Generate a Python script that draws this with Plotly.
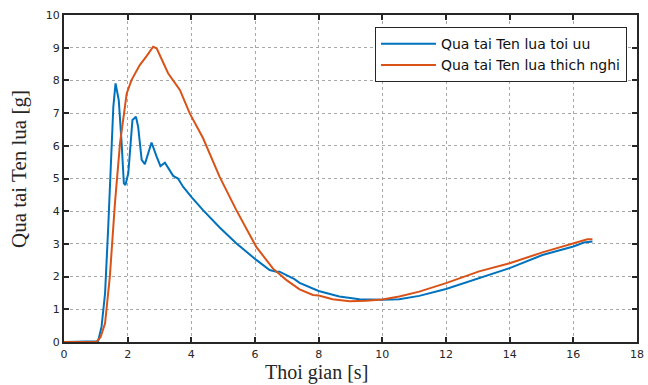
import plotly.graph_objects as go

# Blue: optimal
t_opt = [0, 0.5, 1.0, 1.07, 1.18, 1.29, 1.39, 1.49, 1.55, 1.62, 1.72, 1.81, 1.88, 1.93, 2.02,
         2.15, 2.26, 2.33, 2.44, 2.54, 2.75, 2.91, 3.03, 3.17, 3.32, 3.43, 3.58, 3.74, 4.0,
         4.36, 4.89, 5.41, 6.04, 6.46, 6.67, 6.77, 7.24, 7.40, 8.0, 8.65, 9.28, 10.0, 10.53,
         11.16, 12.0, 13.04, 14.0, 15.03, 16.0, 16.33, 16.6]
g_opt = [0, 0, 0, 0.02, 0.47, 1.49, 3.53, 6.08, 7.2, 7.91, 7.4, 6.08, 4.85, 4.8, 5.16,
         6.79, 6.89, 6.58, 5.57, 5.44, 6.1, 5.67, 5.38, 5.48, 5.26, 5.08, 5.0, 4.75, 4.44,
         4.04, 3.5, 3.02, 2.51, 2.2, 2.15, 2.15, 1.92, 1.81, 1.56, 1.39, 1.31, 1.29, 1.31,
         1.41, 1.62, 1.95, 2.26, 2.66, 2.92, 3.04, 3.07]

# Orange: adaptive
t_ad = [0, 0.5, 1.02, 1.15, 1.29, 1.44, 1.6, 1.76, 1.97, 2.12, 2.38, 2.6, 2.8, 2.91, 3.27,
        3.64, 3.95, 4.37, 4.89, 5.41, 6.04, 6.56, 6.98, 7.4, 7.82, 8.0, 8.44, 8.97, 9.49,
        10.0, 10.53, 11.16, 12.0, 13.04, 14.0, 15.03, 16.0, 16.44, 16.6]
g_ad = [0, 0, 0, 0.15, 0.57, 2.0, 4.24, 6.08, 7.6, 8.01, 8.47, 8.75, 9.03, 8.98, 8.22,
        7.71, 6.99, 6.23, 5.05, 4.04, 2.91, 2.25, 1.9, 1.61, 1.44, 1.42, 1.31, 1.25, 1.26,
        1.3, 1.39, 1.54, 1.8, 2.16, 2.41, 2.74, 3.02, 3.14, 3.14]

x_ticks = list(range(0, 19, 2))
y_ticks = list(range(0, 11, 1))

fig = go.Figure()
fig.add_trace(go.Scatter(x=t_opt, y=g_opt, mode="lines", name="Qua tai Ten lua toi uu",
                         line=dict(color="#0072BD", width=2)))
fig.add_trace(go.Scatter(x=t_ad, y=g_ad, mode="lines", name="Qua tai Ten lua thich nghi",
                         line=dict(color="#D95319", width=2)))

axis_common = dict(
    showline=True, linecolor="#262626", linewidth=2, mirror="allticks",
    ticks="inside", ticklen=5, tickwidth=2, tickcolor="#262626",
    showgrid=True, gridcolor="#a8a8a8", griddash="dot", gridwidth=1,
    zeroline=False, automargin=False,
    tickfont=dict(family="DejaVu Sans", size=11, color="#262626"),
)

fig.update_xaxes(range=[0, 18], tickvals=x_ticks, ticklabelstandoff=1, **axis_common)
fig.update_yaxes(range=[0, 10], tickvals=y_ticks, **axis_common)

title_font = dict(family="Liberation Serif, Times New Roman", color="#262626")
fig.add_annotation(text="Thoi gian [s]", xref="paper", yref="paper", x=0.4398, y=-0.1315,
                   xanchor="center", yanchor="bottom", showarrow=False, borderpad=0,
                   font=dict(size=20, **title_font))
fig.add_annotation(text="Qua tai Ten lua [g]", xref="paper", yref="paper", x=-0.0785, y=0.529,
                   xanchor="center", yanchor="middle", showarrow=False, textangle=-90,
                   font=dict(size=21, **title_font))

fig.update_layout(
    width=648, height=385,
    margin=dict(l=64, r=11, t=15, b=43),
    paper_bgcolor="white", plot_bgcolor="white",
    showlegend=True,
    legend=dict(x=0.9825, y=0.963, xanchor="right", yanchor="top",
                bgcolor="white", bordercolor="#262626", borderwidth=1,
                font=dict(family="DejaVu Sans", size=14, color="#111111"),
                tracegroupgap=0, itemwidth=55),
)

fig.write_html("out.html")
